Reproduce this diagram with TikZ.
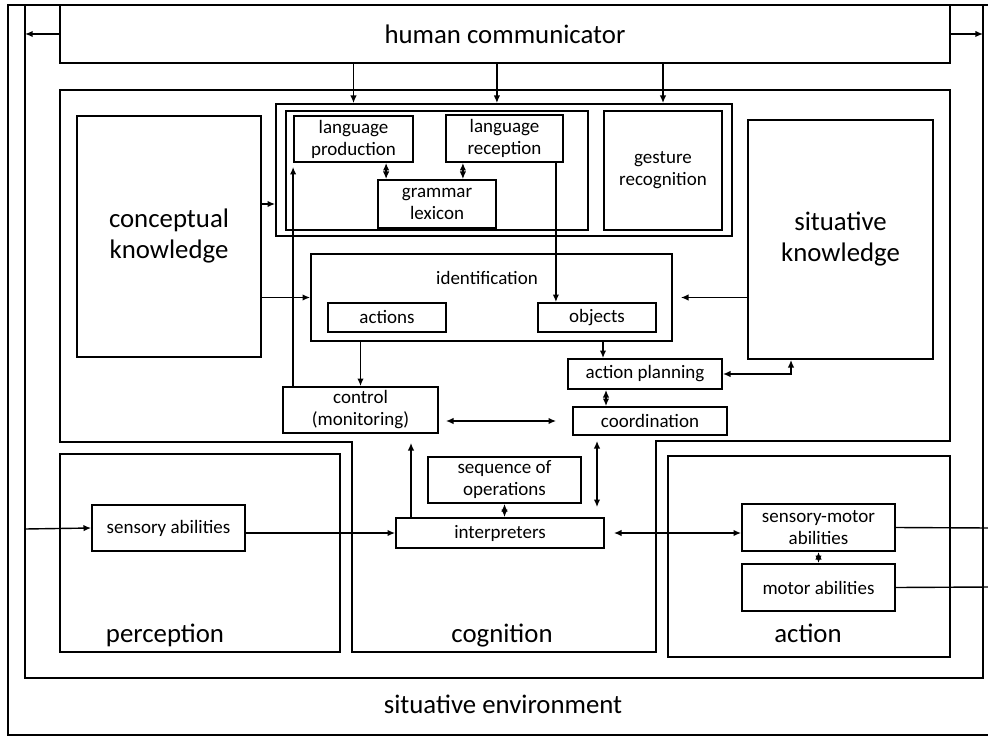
\documentclass[tikz,border=0pt]{standalone}
\usepackage{fontspec}
\setmainfont{Carlito}
\usetikzlibrary{arrows.meta,calc}
\newcommand\lblsmall{\fontsize{9.5}{11}\selectfont}
\newcommand\lblbig{\fontsize{13.4}{15.5}\selectfont}
\begin{document}
\begin{tikzpicture}[x=0.5pt,y=-0.5pt,
  frame/.style={line width=0.9pt},
  box/.style={draw,line width=0.9pt,inner sep=0pt,align=center,font=\lblsmall},
  bigbox/.style={box,font=\lblbig},
  arr/.style={-{Latex[length=3.8pt,width=3.2pt]},line width=0.7pt},
  darr/.style={{Latex[length=3.8pt,width=3.2pt]}-{Latex[length=3.8pt,width=3.2pt]},line width=0.7pt}]
\useasboundingbox (0,0) rectangle (988,737);
\draw[frame] (8,5) rectangle (995,735);
\draw[frame] (25,5) rectangle (983,678);
\draw[frame] (60,90) -- (950,90) -- (950,441) -- (656,441) -- (656,652) -- (352,652) -- (352,442) -- (60,442) -- cycle;
\node[bigbox,minimum width=445pt,minimum height=29pt] (human) at (505,34) {human communicator};
\node[box,minimum width=228pt,minimum height=66pt] (langout) at (504,170) {};
\node[box,minimum width=151pt,minimum height=59.5pt] (langin) at (437,170.5) {};
\node[box,minimum width=59.5pt,minimum height=23pt] (lprod) at (353.5,139) {language\\production};
\node[box,minimum width=58.5pt,minimum height=23.5pt] (lrec) at (504.5,138.5) {language\\reception};
\node[box,minimum width=59pt,minimum height=24pt] (gram) at (437,204) {grammar\\lexicon};
\node[box,minimum width=59pt,minimum height=59.5pt] (gest) at (663,170.5) {gesture\\recognition};
\node[bigbox,minimum width=92pt,minimum height=120.5pt] (concept) at (169,236.5) {conceptual\\knowledge};
\node[bigbox,minimum width=92.5pt,minimum height=119.5pt] (sitk) at (840.5,239.5) {situative\\knowledge};
\node[box,minimum width=180.5pt,minimum height=43.5pt] (ident) at (491.5,297.5) {};
\node[font=\lblsmall] (identlbl) at (487,278) {identification};
\node[box,minimum width=59pt,minimum height=14.5pt] (actions) at (387,317.5) {actions};
\node[box,minimum width=59pt,minimum height=14.5pt] (objects) at (597,317.5) {objects};
\node[box,minimum width=77.5pt,minimum height=23pt] (control) at (360.5,410) {control\\(monitoring)};
\node[box,minimum width=77pt,minimum height=15pt] (plan) at (645,374) {action planning};
\node[box,minimum width=77pt,minimum height=14pt] (coord) at (650,421) {coordination};
\node[box,minimum width=76.5pt,minimum height=23pt] (seq) at (504.5,480) {sequence of\\operations};
\node[box,minimum width=104pt,minimum height=15pt] (interp) at (500,533) {interpreters};
\node[box,minimum width=140pt,minimum height=99pt] (perc) at (200,553) {};
\node[box,minimum width=141pt,minimum height=100.5pt] (act) at (809,556.5) {};
\node[box,minimum width=76.5pt,minimum height=23pt] (sens) at (168.5,528) {sensory abilities};
\node[box,minimum width=76.5pt,minimum height=23.5pt] (smotor) at (818.5,527.5) {sensory-motor\\abilities};
\node[box,minimum width=76.5pt,minimum height=23.5pt] (motor) at (818.5,587.5) {motor abilities};
\node[font=\lblbig,anchor=base] (perclbl) at (165,642) {perception};
\node[font=\lblbig,anchor=base] (coglbl) at (502,642) {cognition};
\node[font=\lblbig,anchor=base] (actlbl) at (808,642) {action};
\node[font=\lblbig,anchor=base] (envlbl) at (503,713) {situative environment};
\coordinate (sysL) at (25,34);
\coordinate (sysR) at (983,34);
\coordinate (envL) at (25,529);
\coordinate (envR1) at (990,528);
\coordinate (envR2) at (990,587);
\coordinate (g1) at ($(gram.north west)+(9,0)$);
\coordinate (g2) at ($(gram.north east)+(-34,0)$);
\coordinate (r1) at ($(lrec.south east)+(-8,0)$);
\coordinate (o1) at ($(objects.south)+(6,0)$);
\coordinate (p1) at ($(plan.south)+(-39,0)$);
\coordinate (s1) at ($(sitk.south)+(-49.5,0)$);
\coordinate (c1) at ($(coord.south)+(-53,0)$);
\coordinate (i1) at ($(interp.north)+(-89,0)$);
\draw[arr] (human.west) -- (sysL);
\draw[arr] (human.east) -- (sysR);
\draw[arr] (lprod.north |- human.south) -- (lprod.north |- langout.north);
\draw[arr] (gram.east |- human.south) -- (gram.east |- langout.north);
\draw[arr] (gest.north |- human.south) -- (gest.north |- langout.north);
\draw[darr] (g1) -- (g1 |- lprod.south);
\draw[darr] (g2) -- (g2 |- lrec.south);
\draw[arr] (r1) -- (r1 |- objects.north);
\draw[arr] (concept.east |- gram) -- (langout.west |- gram);
\draw[arr] (concept.east |- ident.west) -- (ident.west);
\draw[arr,shorten >=4pt] (sitk.west |- ident.east) -- (ident.east);
\draw[arr] (control.north |- ident.south) -- (control.north);
\draw[arr,shorten >=2pt] (lprod.south west |- control.north) -- (lprod.south west);
\draw[arr] (o1 |- ident.south) -- (o1 |- plan.north);
\draw[darr] (p1) -- (p1 |- coord.north);
\draw[darr] (plan.east) -| (s1);
\draw[darr,shorten <=3.5pt,shorten >=8pt] (control.east |- coord.west) -- (coord.west);
\draw[darr,shorten <=2.5pt,shorten >=5pt] (c1) -- (c1 |- interp.north);
\draw[arr,shorten >=4.5pt] (i1) -- (i1 |- control.south);
\draw[darr] (seq.south) -- (seq.south |- interp.north);
\draw[arr] (envL) -- (sens.west);
\draw[arr] (sens.east |- interp.west) -- (interp.west);
\draw[darr,shorten <=4.5pt] (interp.east) -- (smotor.west |- interp.east);
\draw[darr] (smotor.south) -- (motor.north);
\draw[line width=0.7pt] (smotor.east) -- (envR1);
\draw[line width=0.7pt] (motor.east) -- (envR2);
\end{tikzpicture}
\end{document}
